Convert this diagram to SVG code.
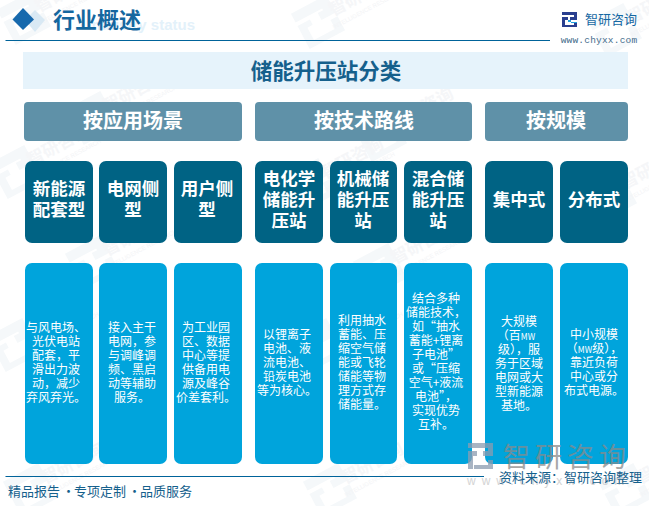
<svg xmlns="http://www.w3.org/2000/svg" width="649" height="506" viewBox="0 0 649 506">
<style>
text{font-family:"Noto Sans CJK SC","Liberation Sans",sans-serif;text-anchor:middle}
.h{fill:#5f91a8}.c{fill:#006384}.b{fill:#00a4dc}
.ht{font-size:20px;font-weight:700;fill:#fff}
.ct{font-size:17.5px;font-weight:700;fill:#fff}
.bt{font-size:12px;fill:#fff}
.mw{font-size:8.500px}
.wm{fill:#f5f8fa}
.wt{font-size:17px;font-weight:700;fill:#f5f6f8}
.ws{font-size:6px;fill:#f3f4f6;font-family:"Liberation Sans",sans-serif}
</style>
<defs>
<g id="mark" transform="rotate(-28)">
<path class="wm" d="M-20 -20h40v20h-16v-8h6v-2h-30zM-20 -6h14v6h-6v20h-8zM20 4v16h-32v-6h24v-10z"/>
<text class="wt" x="50" y="2">智研咨询</text>
<text class="ws" x="50" y="14">INTELLIGENCE RESEARCH</text>
</g>
</defs>
<rect width="649" height="506" fill="#fff"/>
<g id="watermarks">
<use href="#mark" transform="translate(24 18)"/>
<use href="#mark" transform="translate(318 22)"/>
<use href="#mark" transform="translate(615 30)"/>
<use href="#mark" transform="translate(92 118)"/>
<use href="#mark" transform="translate(380 135)"/>
<use href="#mark" transform="translate(16 172)"/>
<use href="#mark" transform="translate(310 185)"/>
<use href="#mark" transform="translate(610 195)"/>
<use href="#mark" transform="translate(92 262)"/>
<use href="#mark" transform="translate(380 270)"/>
<use href="#mark" transform="translate(14 345)"/>
<use href="#mark" transform="translate(318 345)"/>
<use href="#mark" transform="translate(30 490)"/>
<use href="#mark" transform="translate(330 490)"/>
<use href="#mark" transform="translate(625 490)"/>
<text x="195" y="30" style="font-size:15px;font-weight:700;fill:#e3f1fa;font-family:'Liberation Sans',sans-serif;text-anchor:end">Industry status</text>
</g>
<g id="header">
<path d="M35 10L45 20L35 32L25 20Z" fill="#d9e9f4"/>
<path d="M23 8L34 19.500L23 30L12.500 19.500Z" fill="#1769ad"/>
<text x="97" y="28" style="font-size:22px;font-weight:700;fill:#15679f">行业概述</text>
<path d="M5.500 40.500H550" stroke="#00639a" stroke-width="1.200" fill="none"/>
</g>
<g id="logo">
<path d="M562 12h15v8h-7v-3h4v-2h-12zM562 17h6v3h-3v7h-3zM577 22v5h-12v-2h9v-3z" fill="#2a3f8f"/>
<path d="M568 20h3v3h6v-1h-9z" fill="#1f9fe0"/>
<text x="611" y="24" style="font-size:13px;fill:#1668a3">智研咨询</text>
<text x="599" y="43" style="font-size:9.500px;fill:#456d8c;font-family:'Liberation Mono',monospace;letter-spacing:.2px">www.chyxx.com</text>
</g>
<g id="title">
<rect x="23" y="52" width="605" height="37" fill="#e6f3fb"/>
<text x="326" y="79" style="font-size:21.500px;font-weight:700;fill:#15608c">储能升压站分类</text>
</g>
<g id="cat-1"><rect class="h" x="24" y="102" width="218" height="39" rx="4"/><text class="ht" x="133" y="128">按应用场景</text></g>
<g id="cat-2"><rect class="h" x="255" y="102" width="217" height="39" rx="4"/><text class="ht" x="364" y="128">按技术路线</text></g>
<g id="cat-3"><rect class="h" x="485" y="102" width="143" height="39" rx="4"/><text class="ht" x="556" y="128">按规模</text></g>
<g id="type-1"><rect class="c" x="25" y="161" width="68" height="82" rx="7"/><text class="ct"><tspan x="59" y="195">新能源</tspan><tspan x="59" y="216">配套型</tspan></text></g>
<g id="type-2"><rect class="c" x="99" y="161" width="68" height="82" rx="7"/><text class="ct"><tspan x="133" y="195">电网侧</tspan><tspan x="133" y="216">型</tspan></text></g>
<g id="type-3"><rect class="c" x="174" y="161" width="68" height="82" rx="7"/><text class="ct"><tspan x="207" y="195">用户侧</tspan><tspan x="207" y="216">型</tspan></text></g>
<g id="type-4"><rect class="c" x="255" y="161" width="68" height="82" rx="7"/><text class="ct"><tspan x="289" y="185">电化学</tspan><tspan x="289" y="206">储能升</tspan><tspan x="289" y="227">压站</tspan></text></g>
<g id="type-5"><rect class="c" x="330" y="161" width="67" height="82" rx="7"/><text class="ct"><tspan x="363" y="185">机械储</tspan><tspan x="363" y="206">能升压</tspan><tspan x="363" y="227">站</tspan></text></g>
<g id="type-6"><rect class="c" x="404" y="161" width="68" height="82" rx="7"/><text class="ct"><tspan x="438" y="185">混合储</tspan><tspan x="438" y="206">能升压</tspan><tspan x="438" y="227">站</tspan></text></g>
<g id="type-7"><rect class="c" x="485" y="161" width="68" height="82" rx="7"/><text class="ct" x="519" y="206">集中式</text></g>
<g id="type-8"><rect class="c" x="560" y="161" width="68" height="82" rx="7"/><text class="ct" x="594" y="206">分布式</text></g>
<g id="desc-1"><rect class="b" x="25" y="263" width="68" height="201" rx="7"/><text class="bt"><tspan x="56" y="332">与风电场、</tspan><tspan x="56" y="346">光伏电站</tspan><tspan x="56" y="360">配套，平</tspan><tspan x="56" y="374">滑出力波</tspan><tspan x="56" y="388">动，减少</tspan><tspan x="56" y="402">弃风弃光。</tspan></text></g>
<g id="desc-2"><rect class="b" x="99" y="263" width="68" height="201" rx="7"/><text class="bt"><tspan x="132" y="332">接入主干</tspan><tspan x="132" y="346">电网，参</tspan><tspan x="132" y="360">与调峰调</tspan><tspan x="132" y="374">频、黑启</tspan><tspan x="132" y="388">动等辅助</tspan><tspan x="132" y="402">服务。</tspan></text></g>
<g id="desc-3"><rect class="b" x="174" y="263" width="68" height="201" rx="7"/><text class="bt"><tspan x="206" y="332">为工业园</tspan><tspan x="206" y="346">区、数据</tspan><tspan x="206" y="360">中心等提</tspan><tspan x="206" y="374">供备用电</tspan><tspan x="206" y="388">源及峰谷</tspan><tspan x="206" y="402">价差套利。</tspan></text></g>
<g id="desc-4"><rect class="b" x="255" y="263" width="68" height="201" rx="7"/><text class="bt"><tspan x="287" y="339">以锂离子</tspan><tspan x="287" y="353">电池、液</tspan><tspan x="287" y="367">流电池、</tspan><tspan x="287" y="381">铅炭电池</tspan><tspan x="287" y="395">等为核心。</tspan></text></g>
<g id="desc-5"><rect class="b" x="330" y="263" width="67" height="201" rx="7"/><text class="bt"><tspan x="362" y="325">利用抽水</tspan><tspan x="362" y="339">蓄能、压</tspan><tspan x="362" y="353">缩空气储</tspan><tspan x="362" y="367">能或飞轮</tspan><tspan x="362" y="381">储能等物</tspan><tspan x="362" y="395">理方式存</tspan><tspan x="362" y="409">储能量。</tspan></text></g>
<g id="desc-6"><rect class="b" x="404" y="263" width="68" height="201" rx="7"/><text class="bt"><tspan x="436" y="303">结合多种</tspan><tspan x="436" y="317">储能技术，</tspan><tspan x="436" y="331">如“抽水</tspan><tspan x="436" y="345">蓄能+锂离</tspan><tspan x="436" y="359">子电池”</tspan><tspan x="436" y="373">或“压缩</tspan><tspan x="436" y="387">空气+液流</tspan><tspan x="436" y="401">电池”，</tspan><tspan x="436" y="415">实现优势</tspan><tspan x="436" y="429">互补。</tspan></text></g>
<g id="desc-7"><rect class="b" x="485" y="263" width="68" height="201" rx="7"/><text class="bt"><tspan x="519" y="326">大规模</tspan><tspan x="516" y="340">（百<tspan class="mw">MW</tspan></tspan><tspan x="519" y="354">级），服</tspan><tspan x="519" y="368">务于区域</tspan><tspan x="519" y="382">电网或大</tspan><tspan x="519" y="396">型新能源</tspan><tspan x="519" y="410">基地。</tspan></text></g>
<g id="desc-8"><rect class="b" x="560" y="263" width="68" height="201" rx="7"/><text class="bt"><tspan x="594" y="339">中小规模</tspan><tspan x="594" y="353">（<tspan class="mw">MW</tspan>级），</tspan><tspan x="594" y="367">靠近负荷</tspan><tspan x="594" y="381">中心或分</tspan><tspan x="594" y="395">布式电源。</tspan></text></g>
<g id="footer">
<path d="M5.500 476.500H484" stroke="#00639a" stroke-width="1.200" fill="none"/>
<text y="496" style="font-size:13px;fill:#15608c;text-anchor:start"><tspan x="8">精品报告</tspan><tspan x="62">·</tspan><tspan x="74">专项定制</tspan><tspan x="128">·</tspan><tspan x="140">品质服务</tspan></text>
<g id="footer-watermark" opacity=".75">
<path d="M468 443h25v13h-10v-5h5v-3h-20zM468 451h9v5h-4v13h-5zM493 460v9h-19v-4h14v-5z" fill="#8c9cb0"/>
<text x="567" y="467" style="font-size:27px;fill:#8a8a8a;letter-spacing:5px">智研咨询</text>
<text x="467" y="485" style="font-size:12px;fill:#c6c6c6;letter-spacing:6px;text-anchor:start;font-family:'Liberation Sans',sans-serif">www.chyxx.com</text>
</g>
<text x="570.500" y="482" style="font-size:13px;fill:#15608c">资料来源：智研咨询整理</text>
</g>
</svg>
